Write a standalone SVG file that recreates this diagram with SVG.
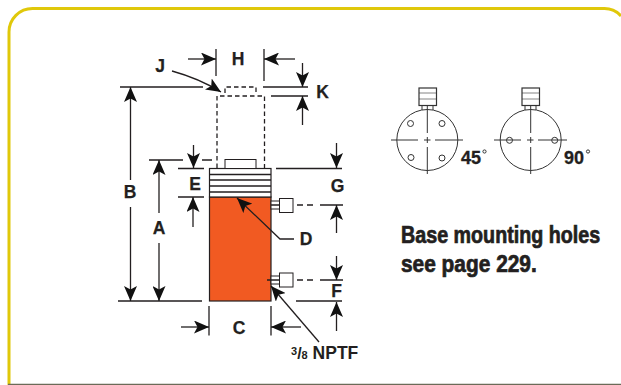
<svg xmlns="http://www.w3.org/2000/svg" width="621" height="385" viewBox="0 0 621 385">
<style>
.l{font-family:"Liberation Sans",Arial,sans-serif;font-weight:700;font-size:17.5px;fill:#231f20;stroke:#231f20;stroke-width:.25;text-anchor:middle}
.n{font-family:"Liberation Sans",Arial,sans-serif;font-weight:700;fill:#231f20}
.d{fill:none;stroke:#231f20;stroke-width:1.3}
.dash{fill:none;stroke:#231f20;stroke-width:1.3;stroke-dasharray:4.500 3}
.thin{fill:none;stroke:#333;stroke-width:1}
.b{font-family:"Liberation Sans",Arial,sans-serif;font-weight:700;font-size:23px;fill:#231f20;stroke:#231f20;stroke-width:.7}
</style>
<defs>
<marker id="a" viewBox="0 0 15 13" refX="15" refY="6.500" markerWidth="15" markerHeight="13" markerUnits="userSpaceOnUse" orient="auto"><path d="M0 0L15 6.500L0 13L3.500 6.500Z" fill="#111"/></marker>
</defs>
<rect width="621" height="385" fill="#fff"/>
<path d="M9 385V32A23.500 23.500 0 0 1 32.500 8.500H604A22 22 0 0 1 621 16" fill="none" stroke="#e0c80a" stroke-width="3"/>
<path d="M8 384.500H621" stroke="#6b6b58" stroke-width="1.500"/>
<g id="cylinder">
<rect x="209.500" y="197" width="61.500" height="104" fill="#f15a22" stroke="#231f20" stroke-width="1.200"/>
<rect x="209.500" y="168.500" width="61.500" height="28.500" fill="#fff" stroke="#231f20" stroke-width="1.200"/>
<path class="d" d="M209.500 174.500H271M209.500 180H271M209.500 186H271M209.500 192H271"/>
<rect x="225" y="159.500" width="31" height="9" fill="#fff" stroke="#231f20" stroke-width="1"/>
</g>
<g id="extended">
<path class="dash" d="M217 168V96H264.500V168M225 93V87H256V92"/>
</g>
<g id="port-upper">
<rect x="271" y="201" width="8.500" height="8" fill="#fff" stroke="#231f20"/>
<rect x="279.500" y="198.500" width="13.500" height="14" fill="#fff" stroke="#231f20"/>
</g>
<g id="port-lower">
<rect x="271" y="276" width="8.500" height="8" fill="#fff" stroke="#231f20"/>
<rect x="279.500" y="273" width="13.500" height="14" fill="#fff" stroke="#231f20"/>
</g>
<g id="connectors">
<path class="d" d="M216 49V76M264 49V81M120 87H203M263 87H308M271 96H308M149 160H183M202 160H212M178 168.500H204M276 168.500H342M178 197H204M118 301H202M296 301H342M209 306V335.500M271 306V335.500M271 205H280M297 205H303M307 205H313M320 205H343M267 280H280M297 280H303M307 280H313M320 280H343"/>
<path class="d" marker-end="url(#a)" d="M188 59H216"/>
<path class="d" marker-end="url(#a)" d="M295 59H264"/>
<path class="d" marker-end="url(#a)" d="M172 71C190 76 205 82 221 92"/>
<path class="d" marker-end="url(#a)" d="M130.500 180V87"/>
<path class="d" marker-end="url(#a)" d="M130.500 207V301"/>
<path class="d" marker-end="url(#a)" d="M159 213V160"/>
<path class="d" marker-end="url(#a)" d="M159 243V301"/>
<path class="d" marker-end="url(#a)" d="M193.500 145V168"/>
<path class="d" marker-end="url(#a)" d="M193 227V197"/>
<path class="d" marker-end="url(#a)" d="M336.500 143V168"/>
<path class="d" marker-end="url(#a)" d="M336.500 233V205"/>
<path class="d" marker-end="url(#a)" d="M336.500 256V280"/>
<path class="d" marker-end="url(#a)" d="M336.500 331V302"/>
<path class="d" marker-end="url(#a)" d="M302.500 63V87"/>
<path class="d" marker-end="url(#a)" d="M302.500 125V96"/>
<path class="d" marker-end="url(#a)" d="M181 327H209"/>
<path class="d" marker-end="url(#a)" d="M301 327H271"/>
<path class="d" marker-end="url(#a)" d="M294 239H280L237 198"/>
<path class="d" marker-end="url(#a)" d="M319 342L271 286"/>
</g>
<g id="labels">
<text class="l" x="238" y="65">H</text>
<text class="l" x="160" y="72">J</text>
<text class="l" x="322.500" y="98">K</text>
<text class="l" x="130" y="198">B</text>
<text class="l" x="159" y="234">A</text>
<text class="l" x="195" y="190">E</text>
<text class="l" x="337.500" y="192">G</text>
<text class="l" x="306" y="245">D</text>
<text class="l" x="336.500" y="296.500">F</text>
<text class="l" x="239" y="334">C</text>
<text class="n" x="291" y="359" font-size="17.500"><tspan font-size="11" dy="-4">3</tspan><tspan dy="4" font-size="16">/</tspan><tspan font-size="11">8</tspan> NPTF</text>
</g>
<g id="base-45">
<rect x="419" y="88" width="17.500" height="17.500" fill="#fff" stroke="#333" stroke-width="1.200"/>
<path class="thin" d="M419 99H436.500M419 93H436.500" stroke-opacity=".6"/>
<path class="thin" d="M422 106V110M433 106V110"/>
<circle cx="427.300" cy="140" r="30.500" class="thin"/>
<path class="thin" d="M391 140H418M424 140H430.500M435 140H463M427.300 106V133M427.300 137V143M427.300 147V174"/>
<circle cx="410.500" cy="123.500" r="3" class="thin"/><circle cx="442" cy="123.500" r="3" class="thin"/><circle cx="411" cy="157.500" r="3" class="thin"/><circle cx="442" cy="158" r="3" class="thin"/>
<text class="n" x="461" y="164" font-size="18" stroke="#231f20" stroke-width=".3">45</text>
<circle cx="484.500" cy="151.500" r="1.600" class="thin" stroke-width=".7"/>
</g>
<g id="base-90">
<rect x="522" y="88" width="17.500" height="17.500" fill="#fff" stroke="#333" stroke-width="1.200"/>
<path class="thin" d="M522 99H539.500M522 93H539.500" stroke-opacity=".6"/>
<path class="thin" d="M525 106V110M536 106V110"/>
<circle cx="530.700" cy="140" r="30.500" class="thin"/>
<path class="thin" d="M494 140H521M527 140H533.500M538 140H567M530.700 106V133M530.700 137V143M530.700 147V174"/>
<circle cx="509.500" cy="140.300" r="3" class="thin"/><circle cx="554.700" cy="140.300" r="3" class="thin"/>
<text class="n" x="564" y="164" font-size="18" stroke="#231f20" stroke-width=".3">90</text>
<circle cx="588" cy="151.500" r="1.600" class="thin" stroke-width=".7"/>
</g>
<g id="note">
<text class="b" transform="translate(401 243) scale(.857 1)">Base mounting holes</text>
<text class="b" transform="translate(401 271.500) scale(.908 1)">see page 229.</text>
</g>
</svg>
